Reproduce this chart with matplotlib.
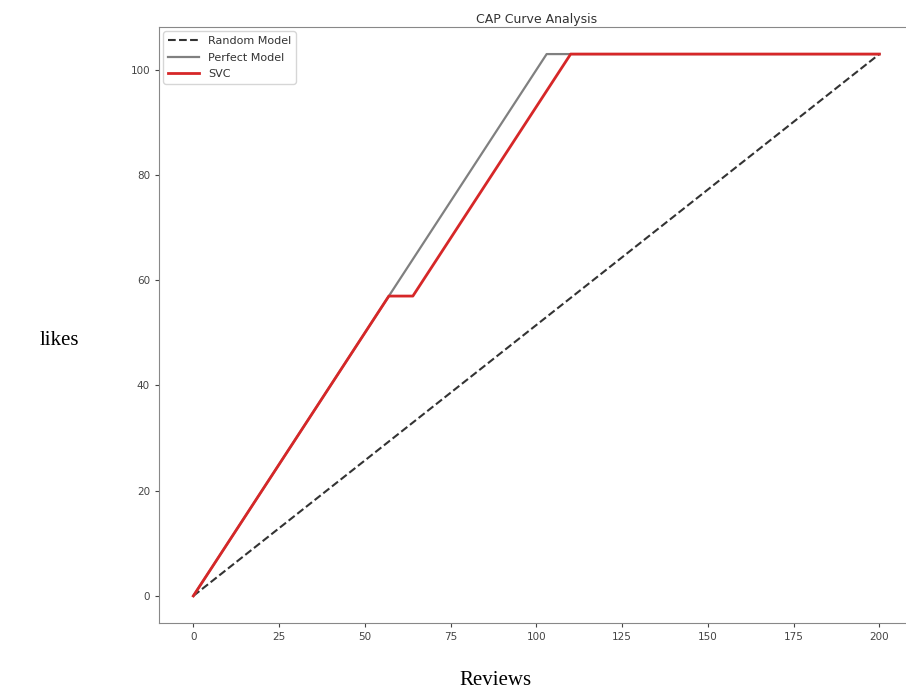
import matplotlib.pyplot as plt

total = 200
positives = 103

random_x = [0, 200]
random_y = [0, 103]

perfect_x = [0, 103, 200]
perfect_y = [0, 103, 103]

svc_x = [0, 57, 64, 110, 200]
svc_y = [0, 57, 57, 103, 103]

fig = plt.figure(figsize=(9.06, 6.99), dpi=100)
ax = fig.add_axes([0.1755, 0.1087, 0.833, 0.8527])

ax.plot(random_x, random_y, color="#333333", linestyle="--", linewidth=1.5, label="Random Model")
ax.plot(perfect_x, perfect_y, color="grey", linewidth=1.6, label="Perfect Model")
ax.plot(svc_x, svc_y, color="#d62728", linewidth=2, label="SVC")

ax.set_xticks([0, 25, 50, 75, 100, 125, 150, 175, 200])
ax.set_yticks([0, 20, 40, 60, 80, 100])
ax.tick_params(labelsize=7.5, colors="#444444", length=3)
for s in ax.spines.values():
    s.set_color("#888888")
ax.set_title("CAP Curve Analysis", fontsize=9, color="#333333", pad=3)
ax.legend(loc="upper left", fontsize=8, frameon=True, labelcolor="#333333",
          handlelength=2.8, borderaxespad=0.4, labelspacing=0.6)

fig.text(0.066, 0.513, "likes", fontsize=15, family="Liberation Serif", ha="center", va="center")
fig.text(0.547, 0.027, "Reviews", fontsize=15, family="Liberation Serif", ha="center", va="center")

fig.savefig("out.png", dpi=100)
